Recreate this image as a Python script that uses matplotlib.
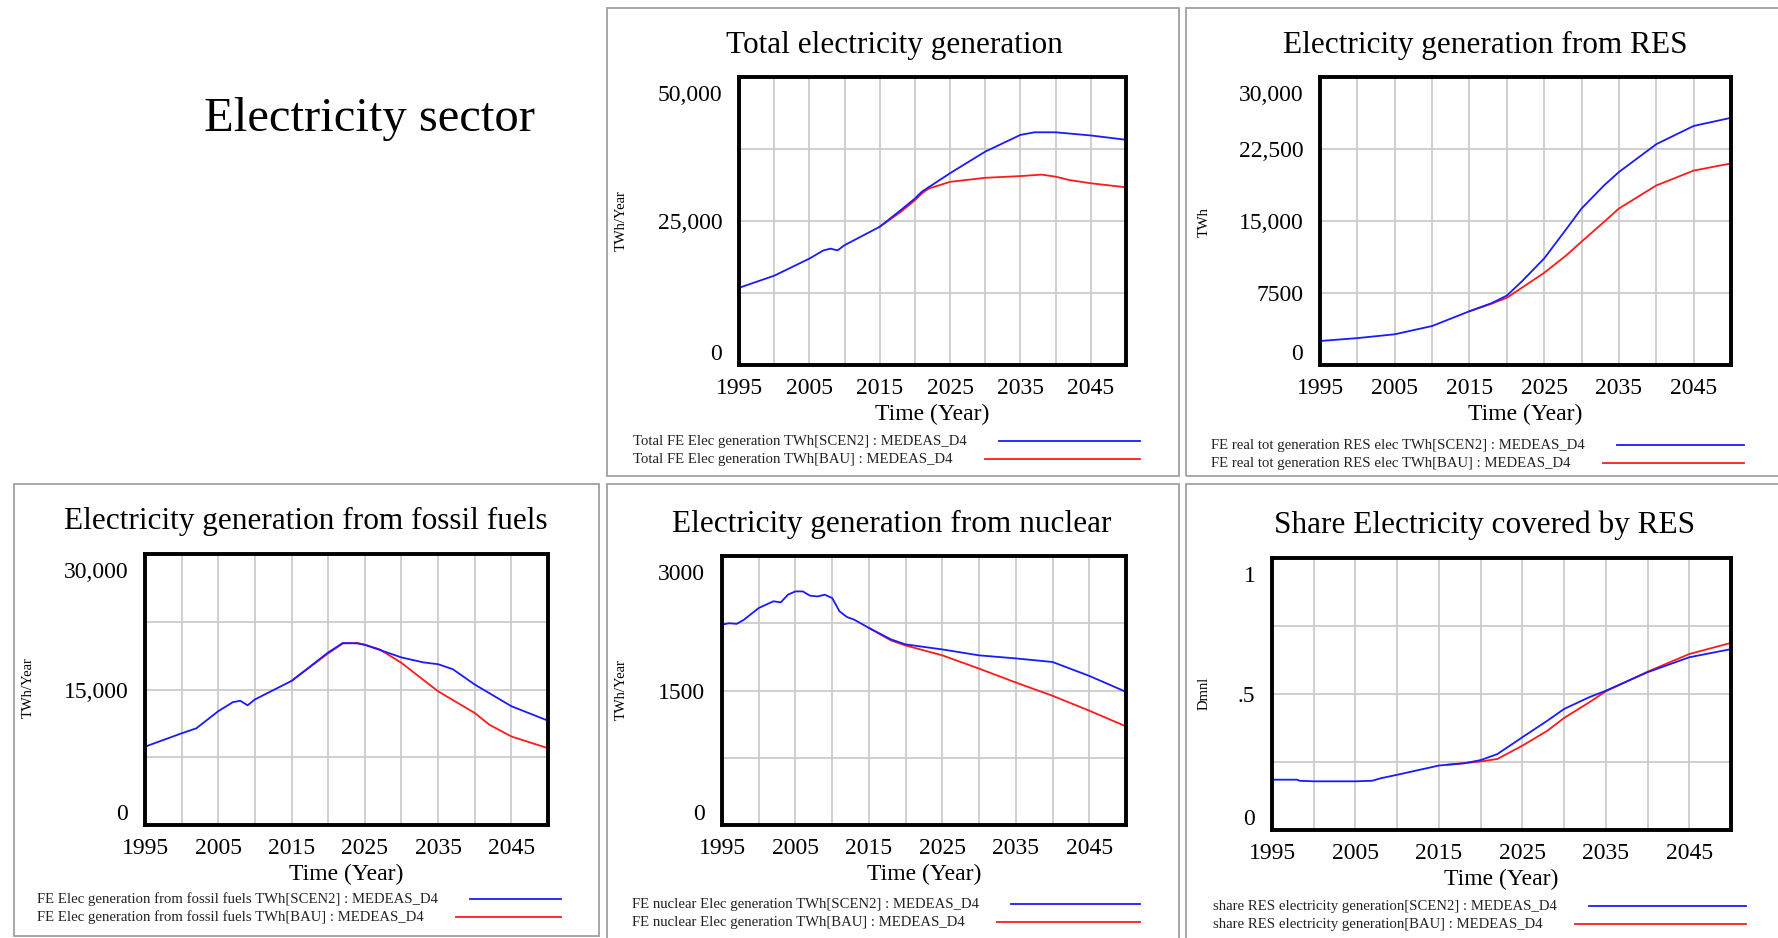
import matplotlib
matplotlib.use('Agg')
from matplotlib import pyplot as plt
from matplotlib.patches import Rectangle
from matplotlib.lines import Line2D
from matplotlib.transforms import ScaledTranslation

plt.rcParams['font.family'] = ['Liberation Serif', 'DejaVu Serif']

W, H = 1778, 938

# ---- data ----
# total electricity generation (TWh/Year)
tot_yr_scen2 = [1995, 2000, 2005, 2007, 2008, 2009, 2010, 2015, 2018, 2020, 2021, 2025,
                2030, 2035, 2037, 2040, 2045, 2050]
tot_scen2 = [13400, 15500, 18470, 19900, 20200, 19900, 20800, 24000, 26900, 28900, 30100,
             33300, 37050, 39950, 40400, 40400, 39850, 39100]
tot_yr_bau = [2015, 2018, 2020, 2021, 2022, 2025, 2030, 2035, 2038, 2040, 2042, 2045, 2050]
tot_bau = [24000, 26600, 28600, 29800, 30650, 31800, 32500, 32800, 33050, 32700, 32100,
           31550, 30850]

# electricity generation from RES (TWh)
res_yr_scen2 = [1995, 2000, 2005, 2010, 2015, 2018, 2020, 2022, 2025, 2028, 2030, 2033,
                2035, 2040, 2045, 2050]
res_scen2 = [2500, 2800, 3200, 4060, 5600, 6450, 7230, 8700, 11100, 14200, 16300, 18700,
             20100, 23000, 24900, 25750]
res_yr_bau = [2015, 2018, 2020, 2025, 2028, 2030, 2033, 2035, 2040, 2045, 2050]
res_bau = [5600, 6400, 7000, 9600, 11450, 12850, 14900, 16300, 18700, 20250, 21000]

# electricity generation from fossil fuels (TWh/Year)
fos_yr_scen2 = [1995, 2000, 2002, 2005, 2007, 2008, 2009, 2010, 2015, 2020, 2022, 2024,
                2025, 2030, 2033, 2035, 2037, 2040, 2045, 2050]
fos_scen2 = [8670, 10150, 10700, 12600, 13600, 13750, 13250, 13900, 15950, 19100, 20150,
             20100, 19950, 18550, 18000, 17800, 17250, 15550, 13150, 11550]
fos_yr_bau = [2015, 2020, 2022, 2024, 2025, 2027, 2030, 2035, 2040, 2042, 2045, 2050]
fos_bau = [15950, 19000, 20100, 20150, 19950, 19450, 17950, 14800, 12400, 11100, 9800, 8500]

# electricity generation from nuclear (TWh/Year)
nuc_yr_scen2 = [1995, 1996, 1997, 1998, 2000, 2002, 2003, 2004, 2005, 2006, 2007, 2008,
                2009, 2010, 2011, 2012, 2013, 2015, 2018, 2020, 2025, 2030, 2035, 2040,
                2045, 2050]
nuc_scen2 = [2235, 2250, 2243, 2290, 2420, 2495, 2483, 2570, 2605, 2605, 2557, 2549,
             2568, 2531, 2383, 2320, 2290, 2198, 2070, 2014, 1958, 1892, 1858, 1818,
             1663, 1485]
nuc_yr_bau = [2015, 2018, 2020, 2025, 2030, 2035, 2040, 2045, 2050]
nuc_bau = [2198, 2058, 2002, 1892, 1744, 1589, 1441, 1275, 1100]

# share electricity covered by RES (Dmnl)
shr_yr_scen2 = [1995, 1998, 1998.3, 2000, 2005, 2007, 2008, 2010, 2015, 2018, 2020, 2022,
                2025, 2028, 2030, 2033, 2035, 2040, 2045, 2050]
shr_scen2 = [0.185, 0.185, 0.181, 0.179, 0.179, 0.181, 0.190, 0.203, 0.237, 0.245, 0.257,
             0.279, 0.341, 0.402, 0.445, 0.488, 0.512, 0.580, 0.635, 0.665]
shr_yr_bau = [2016, 2020, 2022, 2025, 2028, 2030, 2033, 2035, 2040, 2045, 2050]
shr_bau = [0.240, 0.252, 0.261, 0.310, 0.365, 0.412, 0.469, 0.510, 0.582, 0.647, 0.688]

year_ticks = list(range(1995, 2051, 5))
year_labels = [str(y) if (y - 1995) % 10 == 0 else '' for y in year_ticks]

fig = plt.figure(figsize=(W / 100, H / 100), dpi=100)


def box(x0, y0, x1, y1):
    fig.add_artist(Rectangle((x0 / W, 1 - y1 / H), (x1 - x0) / W, (y1 - y0) / H,
                             transform=fig.transFigure, fill=False, ec='#a0a0a0', lw=1.3))


legend_items = []


def panel(frame, axbox, title, title_xy, unit, unit_xy, ytop, yticks, ylabels,
          yr1, v1, yr2, v2, names, leg_x, leg_y, leg_end):
    box(*frame)
    l, t, r, b = axbox
    ax = fig.add_axes([l / W, 1 - b / H, (r - l) / W, (b - t) / H])
    ax.plot(yr2, v2, color='#ff1a1a', lw=1.3)
    ax.plot(yr1, v1, color='#1a1aff', lw=1.3)
    ax.set_xlim(1995, 2050)
    ax.set_ylim(0, ytop)
    ax.set_xticks(year_ticks)
    ax.set_xticklabels(year_labels)
    ax.set_yticks(yticks)
    ax.set_yticklabels(ylabels)
    ax.tick_params(length=0, labelsize=17, pad=12)
    ax.tick_params(axis='x', pad=9)
    lbls = ax.get_yticklabels()
    lbls[0].set_va('bottom')
    lbls[-1].set_va('top')
    lbls[-1].set_transform(lbls[-1].get_transform() +
                           ScaledTranslation(0, -6 / 72, fig.dpi_scale_trans))
    ax.grid(True, color='#cccccc', lw=1.3)
    for s in ax.spines.values():
        s.set_linewidth(2.8)
    ax.set_xlabel('Time (Year)', fontsize=17, labelpad=4)
    fig.text(title_xy[0] / W, 1 - title_xy[1] / H, title, fontsize=22.5,
             ha='center', va='center')
    fig.text(unit_xy[0] / W, 1 - unit_xy[1] / H, unit, fontsize=10.5, rotation=90,
             ha='center', va='center')
    for name, yy, col in zip(names, leg_y, ['#1a1aff', '#ff1a1a']):
        txt = fig.text(leg_x / W, 1 - yy / H, name, fontsize=10.6, ha='left',
                       va='center', color='#222222')
        legend_items.append((txt, yy, leg_end, col))


panel((607, 8, 1179, 476), (739, 77, 1126, 365), 'Total electricity generation',
      (894, 45), 'TWh/Year', (621, 221), 50000, [0, 12500, 25000, 37500, 50000],
      ['0', '', '25,000', '', '50,000'], tot_yr_scen2, tot_scen2, tot_yr_bau, tot_bau,
      ['Total FE Elec generation TWh[SCEN2] : MEDEAS_D4',
       'Total FE Elec generation TWh[BAU] : MEDEAS_D4'], 633, [441, 459], 1140)

panel((1186, 8, 1790, 476), (1320, 77, 1731, 365), 'Electricity generation from RES',
      (1485, 45), 'TWh', (1204, 222), 30000, [0, 7500, 15000, 22500, 30000],
      ['0', '7500', '15,000', '22,500', '30,000'], res_yr_scen2, res_scen2, res_yr_bau,
      res_bau,
      ['FE real tot generation RES elec TWh[SCEN2] : MEDEAS_D4',
       'FE real tot generation RES elec TWh[BAU] : MEDEAS_D4'], 1211, [445, 463], 1744)

panel((14, 484, 599, 936), (145, 554, 548, 825), 'Electricity generation from fossil fuels',
      (306, 521), 'TWh/Year', (28, 688), 30000, [0, 7500, 15000, 22500, 30000],
      ['0', '', '15,000', '', '30,000'], fos_yr_scen2, fos_scen2, fos_yr_bau, fos_bau,
      ['FE Elec generation from fossil fuels TWh[SCEN2] : MEDEAS_D4',
       'FE Elec generation from fossil fuels TWh[BAU] : MEDEAS_D4'], 37, [899, 917], 561)

panel((607, 484, 1179, 945), (722, 556, 1126, 825), 'Electricity generation from nuclear',
      (892, 524), 'TWh/Year', (621, 690), 3000, [0, 750, 1500, 2250, 3000],
      ['0', '', '1500', '', '3000'], nuc_yr_scen2, nuc_scen2, nuc_yr_bau, nuc_bau,
      ['FE nuclear Elec generation TWh[SCEN2] : MEDEAS_D4',
       'FE nuclear Elec generation TWh[BAU] : MEDEAS_D4'], 632, [904, 922], 1140)

panel((1186, 484, 1790, 945), (1272, 558, 1731, 830), 'Share Electricity covered by RES',
      (1485, 525), 'Dmnl', (1204, 693), 1, [0, 0.25, 0.5, 0.75, 1],
      ['0', '', '.5', '', '1'], shr_yr_scen2, shr_scen2, shr_yr_bau, shr_bau,
      ['share RES electricity generation[SCEN2] : MEDEAS_D4',
       'share RES electricity generation[BAU] : MEDEAS_D4'], 1213, [906, 924], 1746)

fig.text(369 / W, 1 - 119 / H, 'Electricity sector', fontsize=35, ha='center', va='center')

# legend sample lines start right after each legend text
fig.canvas.draw()
rend = fig.canvas.get_renderer()
for txt, yy, x_end, col in legend_items:
    bb = txt.get_window_extent(renderer=rend)
    x0 = bb.x1 + 32
    fig.add_artist(Line2D([x0 / W, x_end / W], [1 - yy / H, 1 - yy / H],
                          transform=fig.transFigure, color=col, lw=1.3))

fig.savefig('out.png', dpi=100)
